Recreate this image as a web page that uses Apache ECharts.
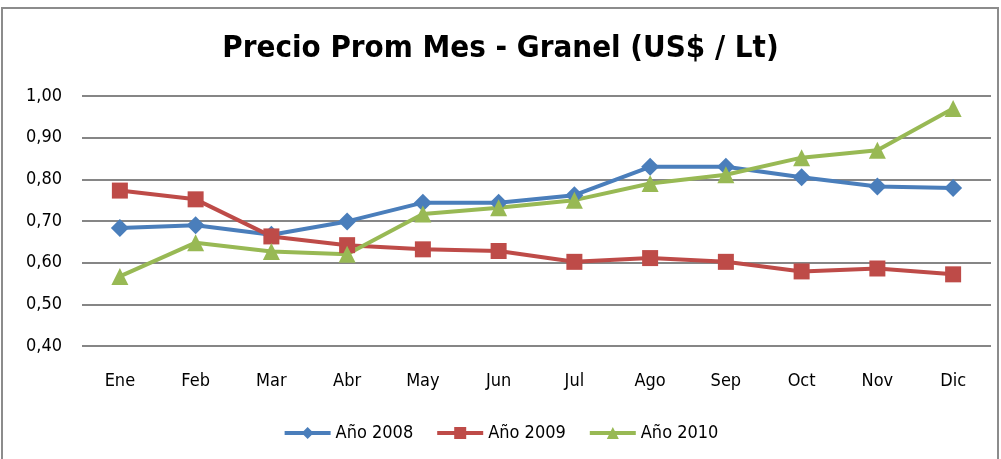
<!DOCTYPE html>
<html>
  <head>
    <title></title>
    <meta charset="UTF-8" />
    <script src="https://cdn.jsdelivr.net/npm/echarts@6/dist/echarts.min.js"></script>
  </head>
  <body style="margin:0">
    <div id="main"></div>
    <script>
      const width = 1001;
      const height = 459;
      const main = document.getElementById('main');
      main.style.width = `${width}px`;
      main.style.height = `${height}px`;

      const months = ['Ene', 'Feb', 'Mar', 'Abr', 'May', 'Jun', 'Jul', 'Ago', 'Sep', 'Oct', 'Nov', 'Dic'];
      const anio2008 = [0.683, 0.69, 0.667, 0.699, 0.744, 0.744, 0.762, 0.83, 0.83, 0.805, 0.783, 0.779];
      const anio2009 = [0.773, 0.752, 0.663, 0.642, 0.632, 0.628, 0.602, 0.611, 0.602, 0.579, 0.586, 0.572];
      const anio2010 = [0.567, 0.648, 0.627, 0.62, 0.717, 0.732, 0.75, 0.79, 0.811, 0.852, 0.87, 0.97];

      const font = 'Liberation Sans Narrow, DejaVu Sans Condensed, sans-serif';
      const mk = (name, data, color, symbol, size) => ({
        name,
        type: 'line',
        data,
        symbol,
        symbolSize: size,
        lineStyle: { width: 4, color },
        itemStyle: { color },
      });

      const myChart = echarts.init(main);
      const option = {
        backgroundColor: '#fff',
        animation: false,
        graphic: [
          {
            type: 'rect',
            shape: { x: 2, y: 8, width: 996, height: 470 },
            style: { fill: 'none', stroke: '#8c8c8c', lineWidth: 2 },
          },
        ],
        title: {
          text: 'Precio Prom Mes - Granel (US$ / Lt)',
          left: 'center',
          top: 28,
          textStyle: { fontFamily: font, fontWeight: 'bold', fontSize: 31, color: '#000' },
        },
        legend: {
          bottom: 12,
          left: 'center',
          itemWidth: 46,
          itemHeight: 15,
          itemGap: 22,
          lineStyle: { width: 4 },
          textStyle: { fontFamily: font, fontSize: 18, color: '#000' },
        },
        grid: { left: 82, right: 10, top: 96, bottom: 113 },
        xAxis: {
          type: 'category',
          data: months,
          boundaryGap: true,
          axisLine: { show: false },
          axisTick: { show: false },
          axisLabel: { margin: 26, fontFamily: font, fontSize: 18, color: '#000' },
        },
        yAxis: {
          type: 'value',
          min: 0.4,
          max: 1.0,
          interval: 0.1,
          axisLine: { show: false },
          axisTick: { show: false },
          splitLine: { lineStyle: { color: '#868686', width: 2 } },
          axisLabel: {
            margin: 20,
            fontFamily: font,
            fontSize: 18,
            color: '#000',
            formatter: (v) => v.toFixed(2).replace('.', ','),
          },
        },
        series: [
          mk('Año 2008', anio2008, '#4a7ebb', 'diamond', 18),
          mk('Año 2009', anio2009, '#be4b48', 'rect', 16),
          mk('Año 2010', anio2010, '#98b954', 'triangle', 17),
        ],
      };
      myChart.setOption(option);
    </script>
  </body>
</html>
